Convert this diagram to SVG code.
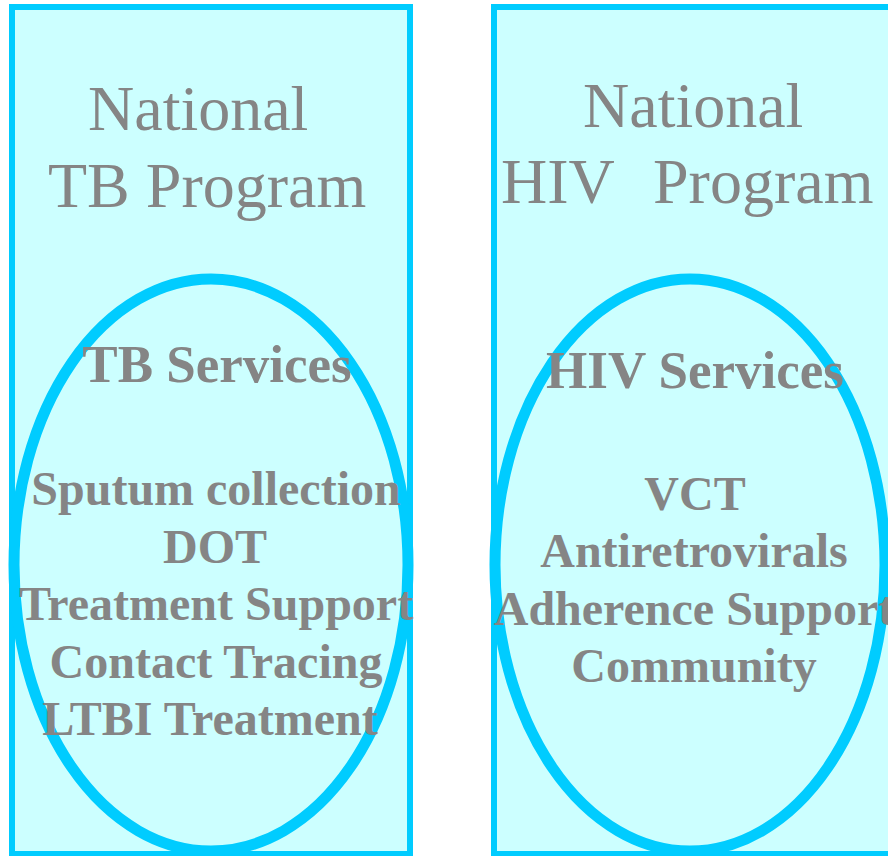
<svg xmlns="http://www.w3.org/2000/svg" width="888" height="856" viewBox="0 0 888 856">
<style>
.box{fill:#CCFFFF;stroke:#00CCFF;stroke-width:6}
.oval{fill:none;stroke:#00CCFF;stroke-width:11}
.title{font-family:"Liberation Serif",serif;font-size:64px;fill:#858585}
.head{font-family:"Liberation Serif",serif;font-size:53px;font-weight:bold;fill:#858585;text-anchor:middle}
.item{font-family:"Liberation Serif",serif;font-size:48px;font-weight:bold;fill:#858585;text-anchor:middle}
</style>
<rect width="888" height="856" fill="#FFFFFF"/>
<g id="tb-program">
<rect class="box" x="12" y="7" width="398" height="847"/>
<text class="title" x="88" y="130">National</text>
<text class="title" x="48" y="207">TB Program</text>
</g>
<g id="hiv-program">
<rect class="box" x="494" y="7" width="400" height="847"/>
<text class="title" x="583" y="127">National</text>
<text class="title" y="203"><tspan x="501">HIV</tspan><tspan x="653">Program</tspan></text>
</g>
<g id="tb-services">
<ellipse class="oval" cx="211" cy="565" rx="197" ry="286"/>
<text class="head" x="217" y="382">TB Services</text>
<text class="item" x="216" y="505">Sputum collection</text>
<text class="item" x="215" y="563">DOT</text>
<text class="item" x="216" y="620">Treatment Support</text>
<text class="item" x="216" y="678">Contact Tracing</text>
<text class="item" x="210" y="735">LTBI Treatment</text>
</g>
<g id="hiv-services">
<ellipse class="oval" cx="690" cy="565" rx="195" ry="286"/>
<text class="head" x="695" y="388">HIV Services</text>
<text class="item" x="695" y="510">VCT</text>
<text class="item" x="694" y="567">Antiretrovirals</text>
<text class="item" x="694" y="625">Adherence Support</text>
<text class="item" x="694" y="682">Community</text>
</g>
<g id="connectors"/>
</svg>
